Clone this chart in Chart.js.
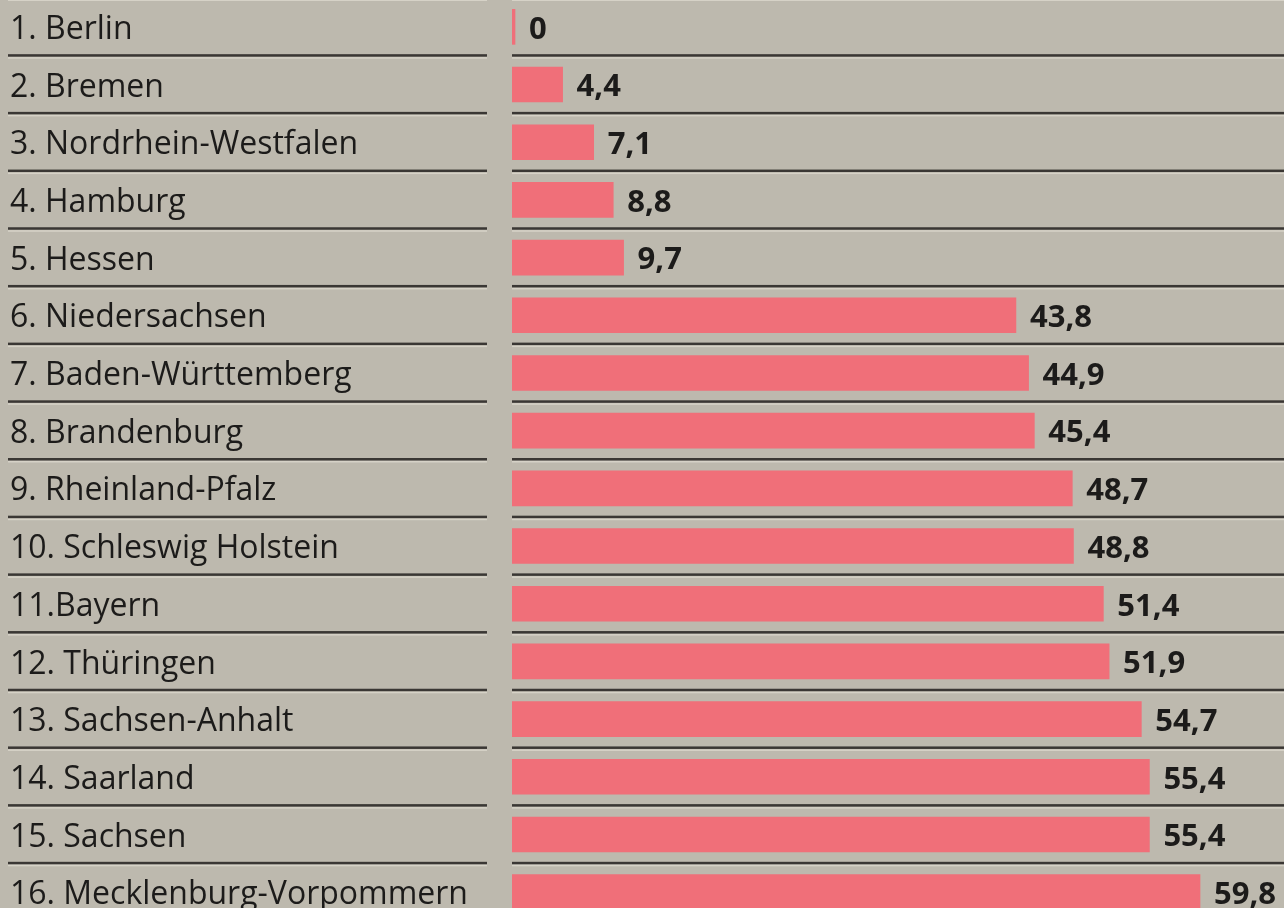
<!DOCTYPE html>
<html lang="de">
<head>
<meta charset="utf-8">
<title>Bundesländer</title>
<script src="https://cdn.jsdelivr.net/npm/chart.js@4/dist/chart.umd.min.js"></script>
<style>
    html, body { margin: 0; padding: 0; background: #bdb9ae; overflow: hidden; }
    #wrap { position: absolute; left: 0; top: -2px; width: 1284px; height: 923px; }
</style>
</head>
<body>
<div id="wrap"><canvas id="chart"></canvas></div>
<script>
const laender = [
    "1. Berlin", "2. Bremen", "3. Nordrhein-Westfalen", "4. Hamburg",
    "5. Hessen", "6. Niedersachsen", "7. Baden-Württemberg", "8. Brandenburg",
    "9. Rheinland-Pfalz", "10. Schleswig Holstein", "11.Bayern", "12. Thüringen",
    "13. Sachsen-Anhalt", "14. Saarland", "15. Sachsen", "16. Mecklenburg-Vorpommern",
];
const werte = [0, 4.4, 7.1, 8.8, 9.7, 43.8, 44.9, 45.4, 48.7, 48.8, 51.4, 51.9, 54.7, 55.4, 55.4, 59.8];
const xMin = 0;
const xMax = 67.1;

const BAR      = "#f06f79";
const INK      = "#1c1b1a";
const RULE     = "#3a3734";
const HILITE   = "#d6d2c7";

const fmtDe = v => v === 0 ? "0" : v.toFixed(1).replace(".", ",");

// Separator rules between rows: label column + bar column
const rowRules = {
    id: "rowRules",
    beforeDatasetsDraw(chart) {
        const { ctx, chartArea, scales: { y } } = chart;
        ctx.save();
        for (let i = 0; i <= laender.length; i++) {
            const py = y.getPixelForValue(i - 0.5);
            const segs = [[8, 487], [chartArea.left, chartArea.right]];
            segs.forEach(([a, b]) => {
                ctx.fillStyle = RULE;
                ctx.fillRect(a, py - 1.5, b - a, 2.5);
                ctx.fillStyle = HILITE;
                ctx.fillRect(a, py + 1.5, b - a, 1.5);
            });
        }
        ctx.restore();
    }
};

// Value labels right of each bar
const valueLabels = {
    id: "valueLabels",
    afterDatasetsDraw(chart) {
        const { ctx } = chart;
        const meta = chart.getDatasetMeta(0);
        ctx.save();
        ctx.font = "bold 31px 'Open Sans'";
        ctx.fillStyle = INK;
        ctx.textAlign = "left";
        ctx.textBaseline = "middle";
        meta.data.forEach((bar, i) => {
            ctx.fillText(fmtDe(werte[i]), bar.x + 14, bar.y + 3);
        });
        ctx.restore();
    }
};

new Chart(document.getElementById("chart"), {
    type: "bar",
    data: {
        labels: laender,
        datasets: [{
            data: werte,
            backgroundColor: BAR,
            borderWidth: 0,
            barThickness: 35,
            minBarLength: 3,
        }]
    },
    options: {
        indexAxis: "y",
        responsive: true, maintainAspectRatio: false,
        animation: false,
        devicePixelRatio: 1,
        layout: { padding: { left: 10, right: 0, top: 0, bottom: 0 } },
        plugins: { legend: { display: false }, tooltip: { enabled: false } },
        scales: {
            x: { display: false, min: xMin, max: xMax },
            y: {
                offset: true,
                grid: { display: false, drawTicks: false },
                border: { display: false },
                afterFit: scale => {
                    scale.width = 502;
                    scale.paddingTop = 0;
                    scale.paddingBottom = 0;
                },
                ticks: {
                    crossAlign: "far",
                    padding: 0,
                    labelOffset: 3,
                    color: INK,
                    font: { family: "Open Sans", size: 32 },
                }
            }
        }
    },
    plugins: [rowRules, valueLabels]
});
</script>
</body>
</html>
